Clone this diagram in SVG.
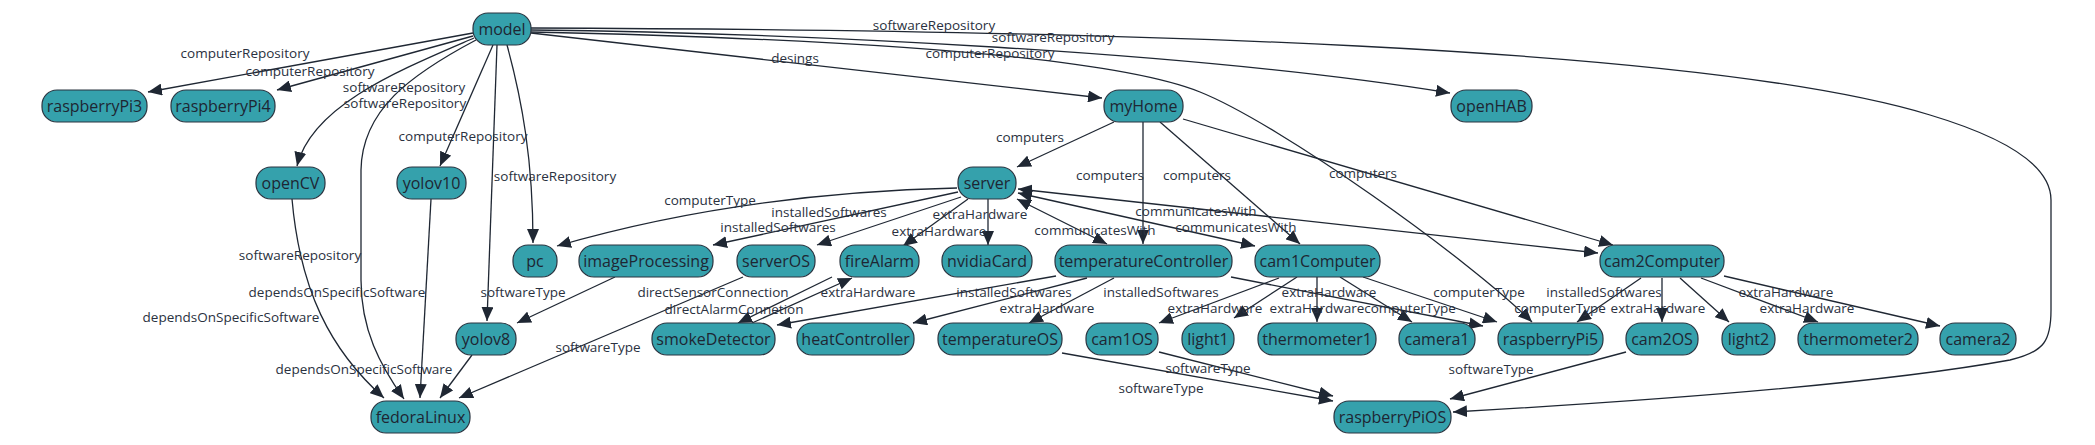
<svg xmlns="http://www.w3.org/2000/svg" width="2095" height="445" viewBox="0 0 2095 445">
<style>
.n rect{fill:#35a1ac;stroke:#2b3440;stroke-width:1.2}
.n text{font-family:'Open Sans','Noto Sans',sans-serif;font-size:16px;fill:#1e2633;text-anchor:middle;dominant-baseline:central}
.e path{fill:none;stroke:#1f2733;stroke-width:1.3;marker-end:url(#a)}
.e path.b{marker-start:url(#a)}
.l text{font-family:'Open Sans','Noto Sans',sans-serif;font-size:13.5px;fill:#2a3140;text-anchor:middle;dominant-baseline:central}
</style>
<defs>
<marker id="a" viewBox="0 0 14 12" refX="14" refY="6" markerWidth="14" markerHeight="12" markerUnits="userSpaceOnUse" orient="auto-start-reverse">
<path d="M0,0 L14,6 L0,12 z" fill="#1f2733"/>
</marker>
</defs>
<rect width="2095" height="445" fill="#ffffff"/>
<g id="connectors" class="e">
<path d="M473 33 L148 92"/>
<path d="M473 36 L277 90"/>
<path d="M474 38 C400 70 312 105 297 166"/>
<path d="M476 40 C410 75 362 110 361 170 L361 280 C361 330 380 365 404 399"/>
<path d="M493 45 L440 166"/>
<path d="M497 45 L487 321"/>
<path d="M507 45 C522 100 533 160 533 243"/>
<path d="M531 33 L1102 98"/>
<path d="M531 30 C800 33 1200 52 1450 93"/>
<path d="M531 28 C1100 30 1700 45 1930 115 C1990 133 2051 160 2051 200 L2051 310 C2051 340 2045 352 2010 360 C1900 380 1700 398 1453 412"/>
<path d="M531 32 C900 40 1120 60 1200 92 S1470 260 1532 322"/>
<path d="M1114 122 L1017 167"/>
<path d="M1143 122 L1143 244"/>
<path d="M1160 122 L1300 244"/>
<path d="M1183 119 L1613 245"/>
<path d="M957 188 Q740 193 557 246"/>
<path d="M958 192 L713 245"/>
<path d="M961 197 L817 245"/>
<path d="M968 199 L903 246"/>
<path d="M988 199 L988 245"/>
<path class="b" d="M1017 199 L1107 244"/>
<path class="b" d="M1018 193 L1255 246"/>
<path class="b" d="M1018 189 L1598 253"/>
<path d="M1056 276 L777 325"/>
<path d="M1087 278 L913 323"/>
<path d="M1114 278 L1029 323"/>
<path d="M1231 277 L1483 326"/>
<path d="M1279 278 L1159 323"/>
<path d="M1297 277 L1234 318"/>
<path d="M1317 277 L1317 322"/>
<path d="M1340 277 L1412 322"/>
<path d="M1363 277 L1497 322"/>
<path d="M1641 278 L1577 322"/>
<path d="M1662 278 L1662 322"/>
<path d="M1680 278 L1729 322"/>
<path d="M1701 278 L1818 322"/>
<path d="M1724 276 L1940 326"/>
<path d="M292 199 C300 290 330 350 384 398"/>
<path d="M431 199 L420 398"/>
<path d="M472 355 L440 398"/>
<path d="M743 277 L459 398"/>
<path d="M615 277 L517 323"/>
<path d="M832 277 L738 323"/>
<path d="M752 323 L852 278"/>
<path d="M1062 353 L1333 401"/>
<path d="M1159 352 L1333 396"/>
<path d="M1626 352 L1450 399"/>
</g>
<g id="labels" class="l">
<text x="245" y="53">computerRepository</text>
<text x="310" y="71">computerRepository</text>
<text x="404" y="87">softwareRepository</text>
<text x="405" y="103">softwareRepository</text>
<text x="463" y="136">computerRepository</text>
<text x="555" y="176">softwareRepository</text>
<text x="795" y="58">desings</text>
<text x="934" y="25">softwareRepository</text>
<text x="1053" y="37">softwareRepository</text>
<text x="990" y="53">computerRepository</text>
<text x="300" y="255">softwareRepository</text>
<text x="337" y="292">dependsOnSpecificSoftware</text>
<text x="231" y="317">dependsOnSpecificSoftware</text>
<text x="364" y="369">dependsOnSpecificSoftware</text>
<text x="523" y="292">softwareType</text>
<text x="598" y="347">softwareType</text>
<text x="713" y="292">directSensorConnection</text>
<text x="734" y="309">directAlarmConnetion</text>
<text x="868" y="292">extraHardware</text>
<text x="1014" y="292">installedSoftwares</text>
<text x="1161" y="292">installedSoftwares</text>
<text x="1047" y="308">extraHardware</text>
<text x="710" y="200">computerType</text>
<text x="829" y="212">installedSoftwares</text>
<text x="778" y="227">installedSoftwares</text>
<text x="980" y="214">extraHardware</text>
<text x="939" y="231">extraHardware</text>
<text x="1030" y="137">computers</text>
<text x="1110" y="175">computers</text>
<text x="1197" y="175">computers</text>
<text x="1363" y="173">computers</text>
<text x="1196" y="211">communicatesWith</text>
<text x="1236" y="227">communicatesWith</text>
<text x="1095" y="230">communicatesWith</text>
<text x="1215" y="308">extraHardware</text>
<text x="1329" y="292">extraHardware</text>
<text x="1317" y="308">extraHardware</text>
<text x="1410" y="308">computerType</text>
<text x="1479" y="292">computerType</text>
<text x="1560" y="308">computerType</text>
<text x="1604" y="292">installedSoftwares</text>
<text x="1658" y="308">extraHardware</text>
<text x="1786" y="292">extraHardware</text>
<text x="1807" y="308">extraHardware</text>
<text x="1208" y="368">softwareType</text>
<text x="1161" y="388">softwareType</text>
<text x="1491" y="369">softwareType</text>
</g>
<g id="model" class="n"><rect x="473" y="13" width="58" height="32" rx="15"/><text x="502" y="29">model</text></g>
<g id="raspberryPi3" class="n"><rect x="42" y="90" width="105" height="32" rx="15"/><text x="94.5" y="106">raspberryPi3</text></g>
<g id="raspberryPi4" class="n"><rect x="171" y="90" width="104" height="32" rx="15"/><text x="223" y="106">raspberryPi4</text></g>
<g id="myHome" class="n"><rect x="1104" y="90" width="79" height="32" rx="15"/><text x="1143.5" y="106">myHome</text></g>
<g id="openHAB" class="n"><rect x="1451" y="90" width="81" height="32" rx="15"/><text x="1491.5" y="106">openHAB</text></g>
<g id="openCV" class="n"><rect x="256" y="167" width="69" height="32" rx="15"/><text x="290.5" y="183">openCV</text></g>
<g id="yolov10" class="n"><rect x="397" y="167" width="69" height="32" rx="15"/><text x="431.5" y="183">yolov10</text></g>
<g id="server" class="n"><rect x="958" y="167" width="58" height="32" rx="15"/><text x="987" y="183">server</text></g>
<g id="pc" class="n"><rect x="513" y="245" width="44" height="32" rx="15"/><text x="535" y="261">pc</text></g>
<g id="imageProcessing" class="n"><rect x="579" y="245" width="134" height="32" rx="15"/><text x="646" y="261">imageProcessing</text></g>
<g id="serverOS" class="n"><rect x="737" y="245" width="78" height="32" rx="15"/><text x="776" y="261">serverOS</text></g>
<g id="fireAlarm" class="n"><rect x="840" y="245" width="79" height="32" rx="15"/><text x="879.5" y="261">fireAlarm</text></g>
<g id="nvidiaCard" class="n"><rect x="942" y="245" width="90" height="32" rx="15"/><text x="987" y="261">nvidiaCard</text></g>
<g id="temperatureController" class="n"><rect x="1055" y="245" width="177" height="32" rx="15"/><text x="1143.5" y="261">temperatureController</text></g>
<g id="cam1Computer" class="n"><rect x="1255" y="245" width="125" height="32" rx="15"/><text x="1317.5" y="261">cam1Computer</text></g>
<g id="cam2Computer" class="n"><rect x="1600" y="245" width="124" height="32" rx="15"/><text x="1662" y="261">cam2Computer</text></g>
<g id="yolov8" class="n"><rect x="456" y="323" width="60" height="32" rx="15"/><text x="486" y="339">yolov8</text></g>
<g id="smokeDetector" class="n"><rect x="652" y="323" width="123" height="32" rx="15"/><text x="713.5" y="339">smokeDetector</text></g>
<g id="heatController" class="n"><rect x="797" y="323" width="117" height="32" rx="15"/><text x="855.5" y="339">heatController</text></g>
<g id="temperatureOS" class="n"><rect x="938" y="323" width="124" height="32" rx="15"/><text x="1000" y="339">temperatureOS</text></g>
<g id="cam1OS" class="n"><rect x="1086" y="323" width="72" height="32" rx="15"/><text x="1122" y="339">cam1OS</text></g>
<g id="light1" class="n"><rect x="1182" y="323" width="52" height="32" rx="15"/><text x="1208" y="339">light1</text></g>
<g id="thermometer1" class="n"><rect x="1258" y="323" width="118" height="32" rx="15"/><text x="1317" y="339">thermometer1</text></g>
<g id="camera1" class="n"><rect x="1399" y="323" width="76" height="32" rx="15"/><text x="1437" y="339">camera1</text></g>
<g id="raspberryPi5" class="n"><rect x="1498" y="323" width="105" height="32" rx="15"/><text x="1550.5" y="339">raspberryPi5</text></g>
<g id="cam2OS" class="n"><rect x="1626" y="323" width="72" height="32" rx="15"/><text x="1662" y="339">cam2OS</text></g>
<g id="light2" class="n"><rect x="1722" y="323" width="53" height="32" rx="15"/><text x="1748.5" y="339">light2</text></g>
<g id="thermometer2" class="n"><rect x="1798" y="323" width="120" height="32" rx="15"/><text x="1858" y="339">thermometer2</text></g>
<g id="camera2" class="n"><rect x="1940" y="323" width="76" height="32" rx="15"/><text x="1978" y="339">camera2</text></g>
<g id="fedoraLinux" class="n"><rect x="371" y="401" width="99" height="32" rx="15"/><text x="420.5" y="417">fedoraLinux</text></g>
<g id="raspberryPiOS" class="n"><rect x="1334" y="401" width="117" height="32" rx="15"/><text x="1392.5" y="417">raspberryPiOS</text></g>
</svg>
